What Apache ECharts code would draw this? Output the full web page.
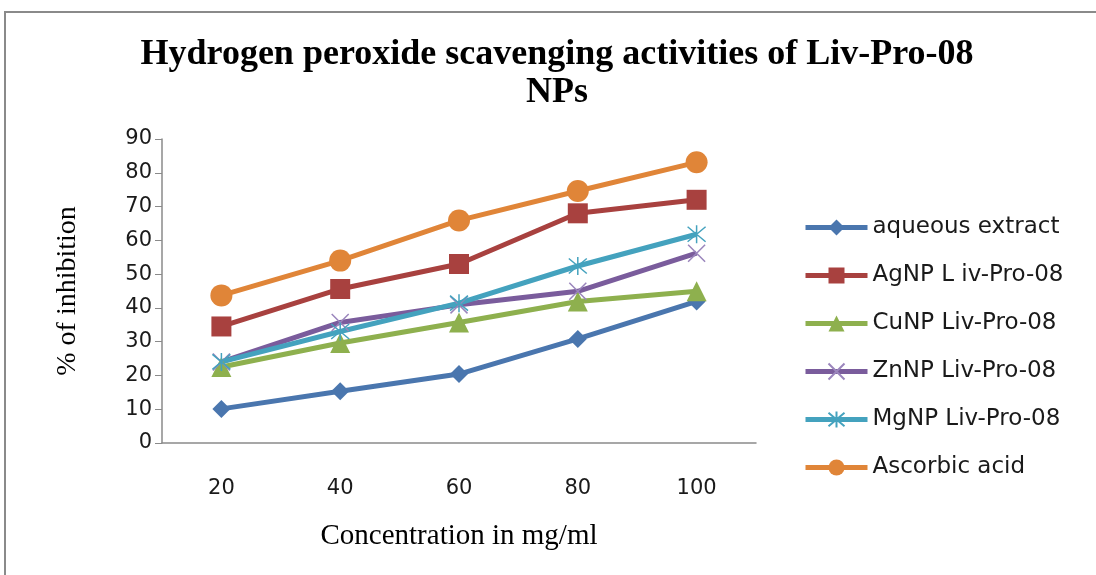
<!DOCTYPE html>
<html>
<head>
<meta charset="utf-8">
<script src="https://cdn.jsdelivr.net/npm/echarts@6/dist/echarts.min.js"></script>
<style>
html,body{margin:0;padding:0;background:#fff;}
#chart{width:1096px;height:575px;}
</style>
</head>
<body>
<div id="chart"></div>
<script>
const categories = ['20', '40', '60', '80', '100'];
const seriesNames = ['aqueous extract', 'AgNP L iv-Pro-08', 'CuNP Liv-Pro-08', 'ZnNP Liv-Pro-08', 'MgNP Liv-Pro-08', 'Ascorbic acid'];
const aqueousExtract = [10.1, 15.3, 20.4, 30.8, 41.9];
const agNP = [34.5, 45.6, 53.0, 68.0, 72.0];
const cuNP = [22.5, 29.6, 35.7, 41.9, 44.9];
const znNP = [24.0, 35.7, 40.9, 44.9, 56.2];
const mgNP = [24.0, 33.0, 41.4, 52.4, 61.8];
const ascorbicAcid = [43.7, 54.0, 65.9, 74.6, 83.1];
const yTicks = [0, 10, 20, 30, 40, 50, 60, 70, 80, 90];

const colors = ['#4A76AE', '#A8413F', '#8EB04E', '#7A5C9C', '#44A2BE', '#E08538'];
const values = [aqueousExtract, agNP, cuNP, znNP, mgNP, ascorbicAcid];
const symbols = [
  {symbol: 'diamond', size: 18},
  {symbol: 'rect', size: 20},
  {symbol: 'triangle', size: 20},
  {symbol: 'path://M0,0L10,10M10,0L0,10', size: 17, stroke: '#9A85BC'},
  {symbol: 'path://M0,0L10,10M10,0L0,10M5,-1L5,11', size: 18, stroke: '#44A2BE'},
  {symbol: 'circle', size: 22}
];

const chart = echarts.init(document.getElementById('chart'), null, {renderer: 'canvas'});

const series = seriesNames.map((name, i) => {
  const s = symbols[i];
  const item = s.stroke
    ? {color: s.stroke, borderColor: s.stroke, borderWidth: 1.5}
    : {color: colors[i]};
  return {
    name: name,
    type: 'line',
    data: values[i],
    symbol: s.symbol,
    symbolSize: s.size,
    showAllSymbol: true,
    lineStyle: {color: colors[i], width: 5},
    itemStyle: item,
    emphasis: {disabled: true},
    animation: false
  };
});

chart.setOption({
  animation: false,
  backgroundColor: '#ffffff',
  graphic: [{
    type: 'rect',
    shape: {x: 5, y: 12, width: 1200, height: 700},
    style: {fill: 'none', stroke: '#8a8a8a', lineWidth: 2},
    silent: true
  }],
  title: {
    text: 'Hydrogen peroxide scavenging activities of Liv-Pro-08\nNPs',
    left: 557,
    textAlign: 'center',
    top: 36,
    padding: 0,
    textStyle: {
      fontFamily: 'Liberation Serif',
      fontWeight: 'bold',
      fontSize: 36,
      lineHeight: 38,
      color: '#000'
    }
  },
  legend: {
    orient: 'vertical',
    left: 803,
    top: 216,
    padding: 0,
    itemWidth: 62,
    itemHeight: 20,
    itemGap: 25,
    data: seriesNames,
    lineStyle: {width: 5},
    textStyle: {fontFamily: 'DejaVu Sans', fontSize: 23, lineHeight: 20, color: '#1a1a1a'}
  },
  grid: {left: 162, right: 340, top: 139, bottom: 132, containLabel: false},
  xAxis: {
    type: 'category',
    data: categories,
    boundaryGap: true,
    name: 'Concentration in mg/ml',
    nameLocation: 'middle',
    nameGap: 79,
    nameTextStyle: {fontFamily: 'Liberation Serif', fontSize: 29, color: '#000'},
    axisLine: {lineStyle: {color: '#8a8a8a', width: 1.5}},
    axisTick: {show: false},
    axisLabel: {fontFamily: 'DejaVu Sans', fontSize: 21, color: '#1a1a1a', margin: 35}
  },
  yAxis: {
    type: 'value',
    min: 0,
    max: 90,
    interval: 10,
    name: '% of inhibition',
    nameLocation: 'middle',
    nameGap: 80,
    nameRotate: 90,
    nameTextStyle: {fontFamily: 'Liberation Serif', fontSize: 28, color: '#000'},
    axisLine: {show: true, lineStyle: {color: '#8a8a8a', width: 1.5}},
    axisTick: {show: true, inside: false, length: 7, lineStyle: {color: '#8a8a8a'}},
    splitLine: {show: false},
    axisLabel: {
      fontFamily: 'DejaVu Sans', fontSize: 21, color: '#1a1a1a', margin: 10,
      formatter: v => yTicks.includes(v) ? String(v) : ''
    }
  },
  series: series
});
</script>
</body>
</html>
